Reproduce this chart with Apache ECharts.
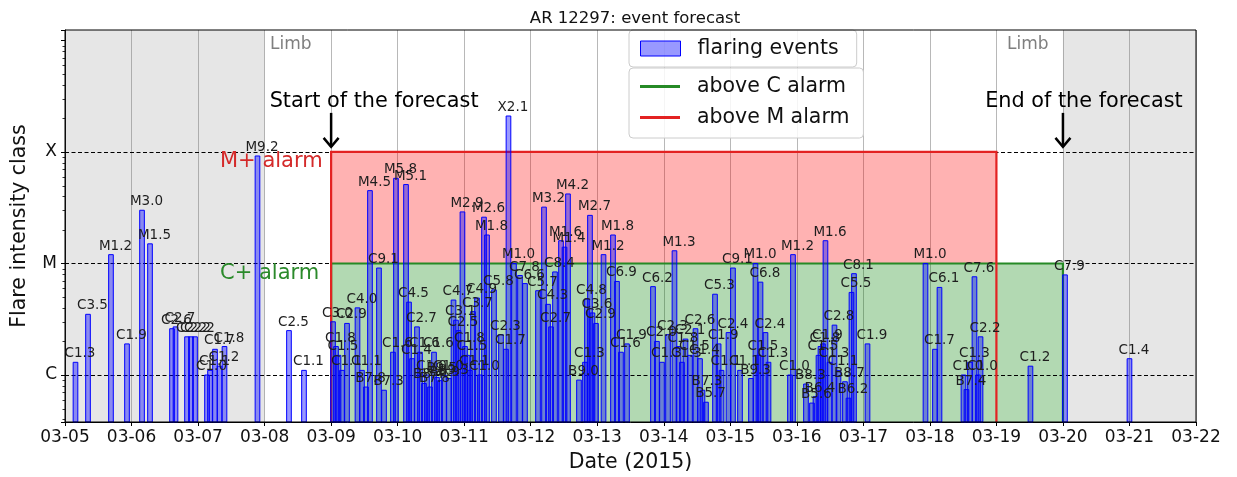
<!DOCTYPE html>
<html><head><meta charset="utf-8">
<script src="https://cdn.jsdelivr.net/npm/echarts@6/dist/echarts.min.js"></script>
<style>html,body{margin:0;padding:0;background:#fff}#c{width:1237px;height:477px}</style>
</head><body><div id="c"></div>
<script>
// ---------------- data ----------------
const eventTimes = [
 '03-05 03:47','03-05 08:18','03-05 16:35','03-05 22:22','03-06 03:47','03-06 06:40','03-06 14:36','03-06 15:52',
 '03-06 20:01','03-06 21:27','03-06 22:54','03-07 03:14','03-07 04:19','03-07 06:07','03-07 07:44','03-07 09:32',
 '03-07 21:26','03-08 08:48','03-08 14:13',
 '03-09 00:41','03-09 01:46','03-09 02:40','03-09 03:55','03-09 05:44','03-09 09:31','03-09 11:08','03-09 12:35',
 '03-09 14:01','03-09 17:16','03-09 19:05','03-09 22:19','03-09 23:24',
 '03-10 03:01','03-10 04:06','03-10 05:11','03-10 06:59','03-10 08:04','03-10 09:30','03-10 10:35','03-10 11:40',
 '03-10 13:07','03-10 14:12','03-10 15:17','03-10 16:43','03-10 18:31','03-10 20:09','03-10 21:03','03-10 21:57',
 '03-10 23:23',
 '03-11 00:18','03-11 01:12','03-11 02:06','03-11 03:11','03-11 04:38','03-11 05:42','03-11 07:09','03-11 08:14',
 '03-11 10:45','03-11 13:17','03-11 15:05','03-11 15:59','03-11 17:58','03-11 20:08','03-11 21:56',
 '03-12 02:38','03-12 04:48','03-12 06:15','03-12 07:20','03-12 08:46','03-12 10:56','03-12 12:12','03-12 13:27',
 '03-12 17:25','03-12 19:35','03-12 20:18','03-12 21:23','03-12 22:17','03-12 23:33',
 '03-13 02:16','03-13 05:41','03-13 07:08','03-13 08:34','03-13 10:44','03-13 20:07','03-13 21:33','03-13 23:21',
 '03-14 01:32','03-14 03:52','03-14 05:19','03-14 06:34','03-14 07:50','03-14 09:28','03-14 11:27','03-14 13:04',
 '03-14 13:58','03-14 15:14','03-14 18:29','03-14 19:47','03-14 20:50','03-14 23:21',
 '03-15 00:58','03-15 03:30','03-15 07:28','03-15 09:05','03-15 10:10','03-15 10:54','03-15 12:42','03-15 13:47',
 '03-15 21:32','03-15 22:37',
 '03-16 03:18','03-16 05:28','03-16 06:44','03-16 07:49','03-16 08:32','03-16 09:26','03-16 10:20','03-16 11:47',
 '03-16 13:35','03-16 15:02','03-16 17:22','03-16 18:38','03-16 19:43','03-16 20:37',
 '03-17 01:30','03-17 22:25','03-18 01:50','03-18 03:28','03-18 12:07','03-18 13:12','03-18 14:28','03-18 16:05',
 '03-18 17:21','03-18 18:16','03-19 12:17','03-20 00:44','03-21 00:00'
];
const eventClasses = [
 'C1.3','C3.5','M1.2','C1.9','M3.0','M1.5','C2.6','C2.7',
 'C2.2','C2.2','C2.2','C1.0','C1.1','C1.7','C1.2','C1.8',
 'M9.2','C2.5','C1.1',
 'C3.0','C1.8','C1.5','C1.1','C2.9','C4.0','C1.1','B7.8',
 'M4.5','C9.1','B7.3','C1.6','M5.8',
 'M5.1','C4.5','C1.4','C2.7','C1.6','B8.4','C1.0','B7.8',
 'C1.6','B9.5','B8.9','C1.0','B9.3','C4.7','C3.1','C2.5',
 'M2.9',
 'C1.8','C1.5','C1.1','C3.7','C4.9','C1.0','M2.6','M1.8',
 'C5.8','C2.3','C1.7','X2.1','M1.0','C7.8','C6.6',
 'C5.7','M3.2','C4.3','C2.7','C8.4','M1.6','M1.4','M4.2',
 'B9.0','C1.3','C4.8','M2.7','C3.6','C2.9',
 'M1.2','M1.8','C6.9','C1.6','C1.9','C6.2','C2.0','C1.3',
 'C2.3','M1.3','C1.8','C1.3','C2.1','C1.5','C2.6','C1.4',
 'B7.3','B5.7','C5.3','C1.9','C1.1','C2.4',
 'C9.1','C1.1','B9.3','M1.0','C1.5','C6.8','C2.4','C1.3',
 'C1.0','M1.2',
 'B8.3','B5.6','B6.4','C1.5','C1.8','C1.9','M1.6','C1.3',
 'C2.8','C1.1','B8.7','B6.2','C5.5','C8.1',
 'C1.9','M1.0','C1.7','C6.1','C1.0','B7.4','C1.3','C7.6',
 'C1.0','C2.2','C1.2','C7.9','C1.4'
];
const dayTicks = ['03-05','03-06','03-07','03-08','03-09','03-10','03-11','03-12','03-13',
                  '03-14','03-15','03-16','03-17','03-18','03-19','03-20','03-21','03-22'];
const classTickLabels = ['C','M','X'];
const classLevels = [1e-6, 1e-5, 1e-4];
const forecastStart = '03-09';
const mAlarmEnd = '03-19';
const cAlarmEnd = '03-20';
const limbPeriods = [['03-05','03-08'], ['03-20','03-22']];

// ---------------- helpers ----------------
const DAY = 86400000;
function parseTime(s){
  const m = s.match(/^(\d{2})-(\d{2})(?:\s+(\d{2}):(\d{2}))?$/);
  return Date.UTC(2015, +m[1]-1, +m[2], m[3] ? +m[3] : 0, m[4] ? +m[4] : 0);
}
const CLASS_BASE = {A:1e-8, B:1e-7, C:1e-6, M:1e-5, X:1e-4};
function classToFlux(c){ return CLASS_BASE[c[0]] * parseFloat(c.slice(1)); }

const X_MIN = parseTime(dayTicks[0]);
const X_MAX = parseTime(dayTicks[dayTicks.length-1]);
const Y_MIN = 3.79e-7, Y_MAX = 1.24e-3;
const LVL_C = classLevels[0], LVL_M = classLevels[1], LVL_X = classLevels[2];
const BAR_W = 0.07 * DAY;
const RED = '#e32222', GREEN = '#268a26';
const FONT = '"DejaVu Sans", sans-serif';

const barData = eventTimes.map((t,i)=>[parseTime(t), classToFlux(eventClasses[i])]);
const FS = parseTime(forecastStart), ME = parseTime(mAlarmEnd), CE = parseTime(cAlarmEnd);

const annotations = [
  {t: parseTime('03-08 01:57'), f: 9.1e-4, text:'Limb', align:'left', color:'#7f7f7f', size:17},
  {t: parseTime('03-19 03:49'), f: 9.1e-4, text:'Limb', align:'left', color:'#7f7f7f', size:17},
  {t: parseTime('03-09 15:30'), f: 2.8e-4, text:'Start of the forecast', align:'center', color:'#000', size:20.8},
  {t: parseTime('03-20 07:35'), f: 2.8e-4, text:'End of the forecast', align:'center', color:'#000', size:20.8},
  {t: parseTime('03-07 07:55'), f: 8.13e-5, text:'M+ alarm', align:'left', color:'#d42a2a', size:21},
  {t: parseTime('03-07 07:55'), f: 8.13e-6, text:'C+ alarm', align:'left', color:'#2b8a2b', size:21}
];
const arrows = [
  {t: FS, f0: 2.24e-4, f1: 1.11e-4},
  {t: CE, f0: 2.24e-4, f1: 1.11e-4}
];
const minorTicks = [];
for (let e = -7; e <= -4; e++) for (let k = 2; k <= 9; k++) {
  const v = k * Math.pow(10, e);
  if (v > Y_MIN && v < Y_MAX) minorTicks.push(v);
}

function rectBetween(api, x0, x1, y0, y1){
  const a = api.coord([x0, y1]), b = api.coord([x1, y0]);
  return {x:a[0], y:a[1], width:b[0]-a[0], height:b[1]-a[1]};
}

const chart = echarts.init(document.getElementById('c'), null, {renderer:'canvas'});
const option = {
  animation: false,
  backgroundColor: '#fff',
  textStyle: {fontFamily: FONT},
  title: {text: 'AR 12297: event forecast', left: 630, textAlign: 'center', top: 5,
          textStyle: {fontSize: 16.5, fontWeight: 'normal', color: '#111', fontFamily: FONT}},
  grid: {left: 65, right: 41, top: 30, bottom: 55, outerBoundsMode: 'none', containLabel: false},
  legend: [
    {data: [{name: 'flaring events', icon: 'rect',
             itemStyle: {color: 'rgba(0,0,255,0.4)', borderColor: '#0000ff', borderWidth: 1}}],
     left: 629, top: 30, itemWidth: 40, itemHeight: 15, padding: [8, 18, 8, 11],
     textStyle: {fontSize: 20.5, color: '#111', fontFamily: FONT, padding: [0,0,0,12]},
     backgroundColor: 'rgba(255,255,255,0.85)', borderColor: '#cccccc', borderWidth: 1, borderRadius: 4,
     selectedMode: false},
    {data: [{name: 'above C alarm', icon: 'rect', itemStyle: {color: GREEN}},
            {name: 'above M alarm', icon: 'rect', itemStyle: {color: RED}}],
     orient: 'vertical', left: 629, top: 68, itemWidth: 40, itemHeight: 3, itemGap: 10,
     padding: [8, 14, 10, 11],
     textStyle: {fontSize: 20.5, color: '#111', fontFamily: FONT, padding: [0,0,0,12]},
     backgroundColor: 'rgba(255,255,255,0.85)', borderColor: '#cccccc', borderWidth: 1, borderRadius: 4,
     selectedMode: false}
  ],
  xAxis: {
    type: 'value', min: X_MIN, max: X_MAX, interval: DAY,
    name: 'Date (2015)', nameLocation: 'middle', nameGap: 30,
    nameTextStyle: {fontSize: 20.5, color: '#111', fontFamily: FONT},
    axisLine: {show: true, lineStyle: {color: '#000', width: 1}},
    axisTick: {show: true, length: 4, lineStyle: {color: '#000', width: 1}},
    axisLabel: {margin: 7, fontSize: 17, color: '#111', fontFamily: FONT,
                formatter: v => dayTicks[Math.round((v - X_MIN) / DAY)] || ''},
    splitLine: {show: true, lineStyle: {color: '#b8b8b8', width: 1}}
  },
  yAxis: {
    type: 'log', logBase: 10, min: Y_MIN, max: Y_MAX, splitNumber: 3,
    name: 'Flare intensity class', nameLocation: 'middle', nameGap: 35,
    nameTextStyle: {fontSize: 20.5, color: '#111', fontFamily: FONT},
    axisLine: {show: true, lineStyle: {color: '#000', width: 1}},
    axisTick: {show: true, length: 4, lineStyle: {color: '#000', width: 1}},
    axisLabel: {margin: 8, fontSize: 17, color: '#111', fontFamily: FONT,
      formatter: v => {
        const l = Math.log10(v);
        for (let i = 0; i < classLevels.length; i++)
          if (Math.abs(l - Math.log10(classLevels[i])) < 1e-4) return classTickLabels[i];
        return '';
      }},
    splitLine: {show: false}
  },
  series: [
    // limb shading
    {type: 'custom', name: 'limb', z: 1, silent: true,
     data: limbPeriods.map(p => [parseTime(p[0]), parseTime(p[1]), Y_MIN, Y_MAX]),
     encode: {x: [0,1], y: [2,3]},
     renderItem: (p, api) => ({type: 'rect',
        shape: rectBetween(api, api.value(0), api.value(1), api.value(2), api.value(3)),
        style: {fill: 'rgba(128,128,128,0.2)'}})},
    // alarm fills
    {type: 'custom', name: 'alarm fills', z: 2, silent: true,
     data: [[FS, ME, LVL_M, LVL_X, 0], [FS, CE, Y_MIN, LVL_M, 1]],
     encode: {x: [0,1], y: [2,3]},
     renderItem: (p, api) => ({type: 'rect',
        shape: rectBetween(api, api.value(0), api.value(1), api.value(2), api.value(3)),
        style: {fill: api.value(4) === 0 ? 'rgba(255,0,0,0.3)' : 'rgba(0,128,0,0.3)'}})},
    // dashed class levels
    {type: 'custom', name: 'levels', z: 3, silent: true,
     data: classLevels.map(v => [X_MIN, X_MAX, v]),
     encode: {x: [0,1], y: 2},
     renderItem: (p, api) => {
       const a = api.coord([api.value(0), api.value(2)]), b = api.coord([api.value(1), api.value(2)]);
       const y = Math.round(a[1]) + 0.5;
       return {type: 'line', shape: {x1: a[0], y1: y, x2: b[0], y2: y},
               style: {stroke: '#000', lineWidth: 1, lineDash: [4, 2.5]}};
     }},
    // C alarm outline
    {type: 'custom', name: 'above C alarm', z: 4, silent: true,
     itemStyle: {color: GREEN},
     data: [[FS, CE, Y_MIN, LVL_M]], encode: {x: [0,1], y: [2,3]},
     renderItem: (p, api) => {
       const s = api.value(0), e = api.value(1), lo = api.value(2), hi = api.value(3);
       return {type: 'polyline', shape: {points: [api.coord([s, lo]), api.coord([s, hi]), api.coord([e, hi]), api.coord([e, lo])]},
               style: {stroke: GREEN, lineWidth: 2.2, fill: null}};
     }},
    // M alarm outline
    {type: 'custom', name: 'above M alarm', z: 4.5, silent: true,
     itemStyle: {color: RED},
     data: [[FS, ME, Y_MIN, LVL_X]], encode: {x: [0,1], y: [2,3]},
     renderItem: (p, api) => {
       const s = api.value(0), e = api.value(1), lo = api.value(2), hi = api.value(3);
       return {type: 'polyline', shape: {points: [api.coord([s, lo]), api.coord([s, hi]), api.coord([e, hi]), api.coord([e, lo])]},
               style: {stroke: RED, lineWidth: 2.2, fill: null}};
     }},
    // bars
    {type: 'custom', name: 'flaring events', z: 5, silent: true,
     itemStyle: {color: 'rgba(0,0,255,0.4)'},
     data: barData, encode: {x: 0, y: 1},
     renderItem: (p, api) => {
       const t = api.value(0), f = api.value(1);
       const top = api.coord([t, f]), bot = api.coord([t, Y_MIN]);
       const w = api.coord([t + BAR_W/2, f])[0] - api.coord([t - BAR_W/2, f])[0];
       return {type: 'rect', shape: {x: top[0] - w/2, y: top[1], width: w, height: bot[1] - top[1]},
               style: {fill: 'rgba(0,0,255,0.4)', stroke: '#0000ff', lineWidth: 1}};
     }},
    // bar labels
    {type: 'custom', name: 'labels', z: 6, silent: true,
     data: barData, encode: {x: 0, y: 1},
     renderItem: (p, api) => {
       const top = api.coord([api.value(0), api.value(1)]);
       return {type: 'text', x: top[0] + 4.5, y: top[1] - 1.5,
               style: {text: eventClasses[p.dataIndex], fill: '#1e1e1e', font: '13.5px ' + FONT,
                       align: 'center', verticalAlign: 'bottom', textAlign: 'center', textVerticalAlign: 'bottom'}};
     }},
    // text annotations
    {type: 'custom', name: 'annotations', z: 7, silent: true,
     data: annotations.map(a => [a.t, a.f]), encode: {x: 0, y: 1},
     renderItem: (p, api) => {
       const a = annotations[p.dataIndex];
       const pt = api.coord([api.value(0), api.value(1)]);
       return {type: 'text', x: pt[0], y: pt[1],
               style: {text: a.text, fill: a.color, font: a.size + 'px ' + FONT,
                       align: a.align, verticalAlign: 'middle', textAlign: a.align, textVerticalAlign: 'middle'}};
     }},
    // arrows
    {type: 'custom', name: 'arrows', z: 7, silent: true,
     data: arrows.map(a => [a.t, a.f0, a.f1]), encode: {x: 0, y: [1,2]},
     renderItem: (p, api) => {
       const a = api.coord([api.value(0), api.value(1)]), b = api.coord([api.value(0), api.value(2)]);
       return {type: 'group', children: [
         {type: 'line', shape: {x1: a[0], y1: a[1], x2: b[0], y2: b[1]}, style: {stroke: '#000', lineWidth: 2.5}},
         {type: 'polyline', shape: {points: [[b[0]-7.5, b[1]-9], [b[0], b[1]], [b[0]+7.5, b[1]-9]]},
          style: {stroke: '#000', lineWidth: 2.5, fill: null}}
       ]};
     }},
    // minor y ticks
    {type: 'custom', name: 'minor ticks', z: 8, silent: true, clip: false,
     data: minorTicks.map(v => [X_MIN, v]), encode: {x: 0, y: 1},
     renderItem: (p, api) => {
       const pt = api.coord([api.value(0), api.value(1)]);
       const y = Math.round(pt[1]) + 0.5;
       return {type: 'line', shape: {x1: pt[0] - 2.5, y1: y, x2: pt[0], y2: y}, style: {stroke: '#000', lineWidth: 0.8}};
     }},
    // frame
    {type: 'custom', name: 'frame', z: 9, silent: true,
     data: [[X_MIN, X_MAX, Y_MIN, Y_MAX]], encode: {x: [0,1], y: [2,3]},
     renderItem: (p, api) => ({type: 'rect',
        shape: rectBetween(api, api.value(0), api.value(1), api.value(2), api.value(3)),
        style: {fill: null, stroke: '#000', lineWidth: 1}})}
  ]
};
chart.setOption(option);
</script>
</body></html>
